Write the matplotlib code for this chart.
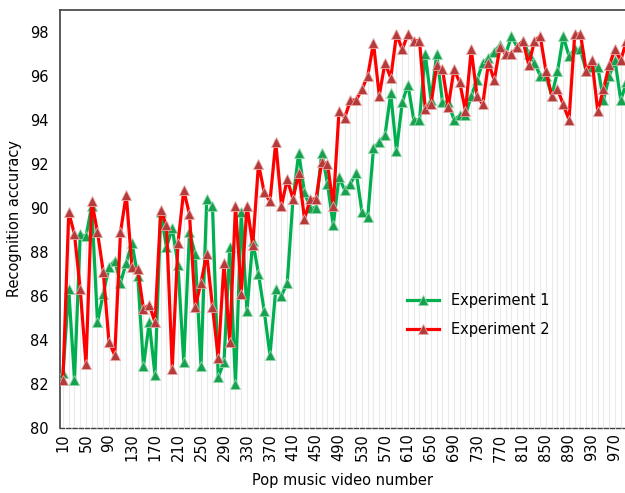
import numpy as np
import matplotlib
matplotlib.use('Agg')
import matplotlib.pyplot as plt

# video numbers 10, 20, ... 990
videos = np.arange(10, 1000, 10)

exp1 = [82.5, 86.3, 82.2, 88.8, 88.7, 90.1, 84.8, 86.1, 87.3, 87.6,
        86.6, 87.5, 88.4, 86.9, 82.8, 84.8, 82.4, 89.8, 88.2, 89.1,
        87.4, 83.0, 88.9, 87.9, 82.8, 90.4, 90.1, 82.3, 83.0, 88.2,
        82.0, 89.8, 85.3, 88.5, 87.0, 85.3, 83.3, 86.3, 86.0, 86.6,
        90.4, 92.5, 90.7, 90.0, 90.0, 92.5, 91.1, 89.2, 91.4, 90.8,
        91.1, 91.6, 89.8, 89.6, 92.7, 93.0, 93.3, 95.2, 92.6, 94.8,
        95.6, 94.0, 94.0, 97.0, 94.9, 97.0, 94.8, 94.8, 94.0, 94.2,
        94.2, 95.1, 95.8, 96.6, 96.8, 97.1, 97.4, 97.0, 97.8, 97.3,
        97.6, 97.0, 96.6, 96.0, 96.0, 95.1, 96.2, 97.8, 96.9, 97.2,
        97.2, 96.2, 96.4, 96.4, 94.9, 96.0, 96.7, 94.9, 95.7]

exp2 = [82.2, 89.8, 88.8, 86.3, 82.9, 90.3, 88.9, 87.1, 83.9, 83.3,
        88.9, 90.6, 87.3, 87.2, 85.4, 85.6, 84.8, 89.9, 89.2, 82.7,
        88.4, 90.8, 89.7, 85.5, 86.6, 87.9, 85.5, 83.2, 87.5, 83.9,
        90.1, 86.1, 90.1, 88.3, 92.0, 90.7, 90.3, 93.0, 90.1, 91.3,
        90.4, 91.6, 89.5, 90.4, 90.4, 92.1, 92.0, 90.1, 94.4, 94.1,
        94.9, 94.9, 95.4, 96.0, 97.5, 95.1, 96.6, 95.9, 97.9, 97.2,
        97.9, 97.6, 97.6, 94.5, 94.7, 96.5, 96.3, 94.6, 96.3, 95.7,
        94.4, 97.2, 95.1, 94.7, 96.6, 95.8, 97.3, 97.0, 97.0, 97.3,
        97.6, 96.5, 97.6, 97.8, 96.2, 95.1, 95.4, 94.7, 94.0, 97.9,
        97.9, 96.2, 96.7, 94.4, 95.4, 96.5, 97.2, 96.7, 97.6]

ytick_vals = list(range(80, 99, 2))
xtick_vals = list(range(10, 1000, 40))

plt.rcParams['font.family'] = ['DejaVu Sans']
fig = plt.figure(figsize=(6.25, 4.93), dpi=100)
ax = fig.add_axes([0.096, 0.132, 0.904, 0.848])

# drop lines
top = np.maximum(exp1, exp2)
ax.vlines(videos, 80, top, color='#ebebeb', lw=0.8, zorder=1)

ax.plot(videos, exp1, color='#00b050', lw=2.3, marker='^', ms=6.5,
        mfc='#16a050', mec='#8fd8a8', mew=0.6, label='Experiment 1', zorder=3)
ax.plot(videos, exp2, color='#ff0000', lw=2.3, marker='^', ms=6.5,
        mfc='#b53a3a', mec='#e8a8a8', mew=0.6, label='Experiment 2', zorder=4)

ax.set_xlim(4.8, 987.4)
ax.set_ylim(80, 99)
ax.set_yticks(ytick_vals)
ax.set_xticks(xtick_vals)
ax.set_xticklabels([str(v) for v in xtick_vals], rotation=90, fontsize=10.5)
ax.tick_params(axis='y', labelsize=10.5, length=0, pad=8)
ax.tick_params(axis='x', length=0, pad=4)

ax.spines['right'].set_visible(False)
for s in ['left', 'top']:
    ax.spines[s].set_color('#404040')
    ax.spines[s].set_linewidth(1.2)
ax.spines['bottom'].set_color('#404040')
ax.spines['bottom'].set_linewidth(1.0)
ax.spines['bottom'].set_linestyle((0, (3, 1.5)))

ax.set_ylabel('Recognition accuracy', fontsize=10.5, labelpad=6)
ax.set_xlabel('Pop music video number', fontsize=10.5, labelpad=8)

ax.legend(loc='center', bbox_to_anchor=(0.74, 0.27), frameon=False,
          fontsize=10.5, handlelength=2.2, labelspacing=0.9)

fig.savefig('out.png', dpi=100)
